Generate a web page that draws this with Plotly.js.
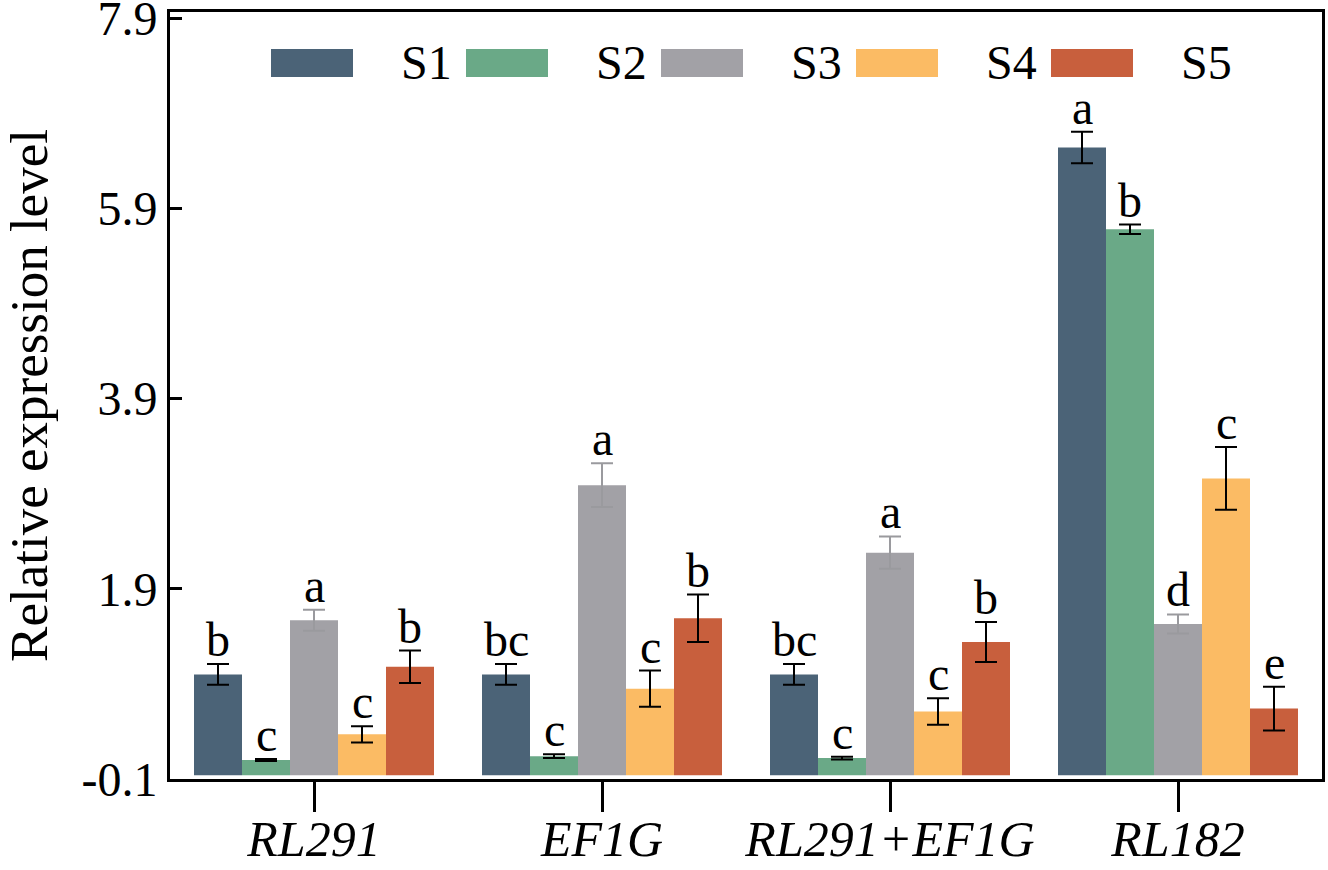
<!DOCTYPE html>
<html>
<head>
<meta charset="utf-8">
<script src="https://cdn.plot.ly/plotly-3.0.1.min.js"></script>
<style>html,body{margin:0;padding:0;background:#fff;}#chart{width:1328px;height:870px;}</style>
</head>
<body>
<div id="chart"></div>
<script>
// ---- data ----
const categories = ["RL291", "EF1G", "RL291+EF1G", "RL182"];
const seriesNames = ["S1", "S2", "S3", "S4", "S5"];
const S1 = [1.00, 1.00, 1.00, 6.54];
const S2 = [0.10, 0.14, 0.12, 5.68];
const S3 = [1.57, 2.99, 2.28, 1.53];
const S4 = [0.37, 0.85, 0.61, 3.06];
const S5 = [1.08, 1.59, 1.34, 0.64];
const S1err = [0.11, 0.11, 0.11, 0.165];
const S2err = [0.01, 0.02, 0.015, 0.05];
const S3err = [0.11, 0.23, 0.17, 0.10];
const S4err = [0.085, 0.19, 0.14, 0.33];
const S5err = [0.17, 0.25, 0.21, 0.23];
const S1sig = ["b", "bc", "bc", "a"];
const S2sig = ["c", "c", "c", "b"];
const S3sig = ["a", "a", "a", "d"];
const S4sig = ["c", "c", "c", "c"];
const S5sig = ["b", "b", "b", "e"];
const yTickVals = [-0.1, 1.9, 3.9, 5.9, 7.9];
const yTickLabels = ["-0.1", "1.9", "3.9", "5.9", "7.9"];
const yTitle = "Relative expression level";

// ---- styles ----
const colors = ["#4b6377", "#6aa987", "#a2a1a6", "#fbbb64", "#c85f3d"];
const errColors = ["#000000", "#000000", "#9a9a9e", "#000000", "#000000"];
const FONT = "Liberation Serif, Times New Roman, serif";
const BAR_BASE = -0.06;
const BARGAP = 0.1667;

const values = [S1, S2, S3, S4, S5];
const errs = [S1err, S2err, S3err, S4err, S5err];
const sigs = [S1sig, S2sig, S3sig, S4sig, S5sig];

const traces = seriesNames.map((name, j) => ({
  type: "bar",
  name: name,
  x: categories,
  y: values[j].map(v => v - BAR_BASE),
  base: BAR_BASE,
  marker: { color: colors[j], line: { width: 0 } },
  error_y: { type: "data", array: errs[j], visible: true, color: errColors[j], thickness: 2, width: 11 },
  showlegend: false,
  hoverinfo: "skip"
}));

const annotations = [];
const w = (1 - BARGAP) / seriesNames.length;
seriesNames.forEach((name, j) => {
  categories.forEach((c, i) => {
    annotations.push({
      x: i + (j - (seriesNames.length - 1) / 2) * w,
      y: values[j][i] + errs[j][i],
      xref: "x", yref: "y",
      text: sigs[j][i],
      showarrow: false,
      yanchor: "bottom",
      yshift: -4,
      font: { family: FONT, size: 48, color: "#000" }
    });
  });
});

// custom legend (long swatches, label after swatch)
const shapes = [];
const plotL = 170, plotR = 1322, plotT = 12, plotB = 779;
const pw = plotR - plotL, ph = plotB - plotT;
seriesNames.forEach((name, j) => {
  const sx0 = 271 + j * 195, sx1 = sx0 + 82;
  const sy0 = 49, sy1 = 77;
  shapes.push({
    type: "rect", xref: "paper", yref: "paper",
    x0: (sx0 - plotL) / pw, x1: (sx1 - plotL) / pw,
    y0: (plotB - sy1) / ph, y1: (plotB - sy0) / ph,
    fillcolor: colors[j], line: { width: 0 }
  });
  annotations.push({
    xref: "paper", yref: "paper",
    x: (sx0 + 128 - plotL) / pw, y: (plotB - 63) / ph,
    xanchor: "left", yanchor: "middle",
    text: name, showarrow: false,
    font: { family: FONT, size: 48, color: "#000" }
  });
});

const layout = {
  width: 1328, height: 870,
  margin: { l: plotL, r: 1328 - plotR, t: plotT, b: 870 - plotB },
  paper_bgcolor: "#fff", plot_bgcolor: "#fff",
  barmode: "group", bargap: BARGAP, bargroupgap: 0,
  showlegend: false,
  font: { family: FONT, color: "#000" },
  xaxis: {
    type: "category",
    range: [-0.5, 3.5],
    showline: true, linecolor: "#000", linewidth: 3, mirror: true,
    ticks: "outside", ticklen: 30, tickwidth: 3, tickcolor: "#000",
    ticklabelstandoff: -16,
    ticklabeloverflow: "allow",
    tickfont: { family: FONT, size: 50, style: "italic", color: "#000" },
    showgrid: false, zeroline: false
  },
  yaxis: {
    range: [-0.1, 7.965],
    tickvals: yTickVals, ticktext: yTickLabels,
    showline: true, linecolor: "#000", linewidth: 3, mirror: true,
    ticks: "inside", ticklen: 12, tickwidth: 3, tickcolor: "#000",
    ticklabelstandoff: 0,
    ticklabeloverflow: "allow",
    tickfont: { family: FONT, size: 48, color: "#000" },
    title: { text: yTitle, font: { family: FONT, size: 53, color: "#000" }, standoff: 30 },
    showgrid: false, zeroline: false
  },
  annotations: annotations,
  shapes: shapes
};

Plotly.newPlot("chart", traces, layout, { displayModeBar: false, staticPlot: true });
</script>
</body>
</html>
